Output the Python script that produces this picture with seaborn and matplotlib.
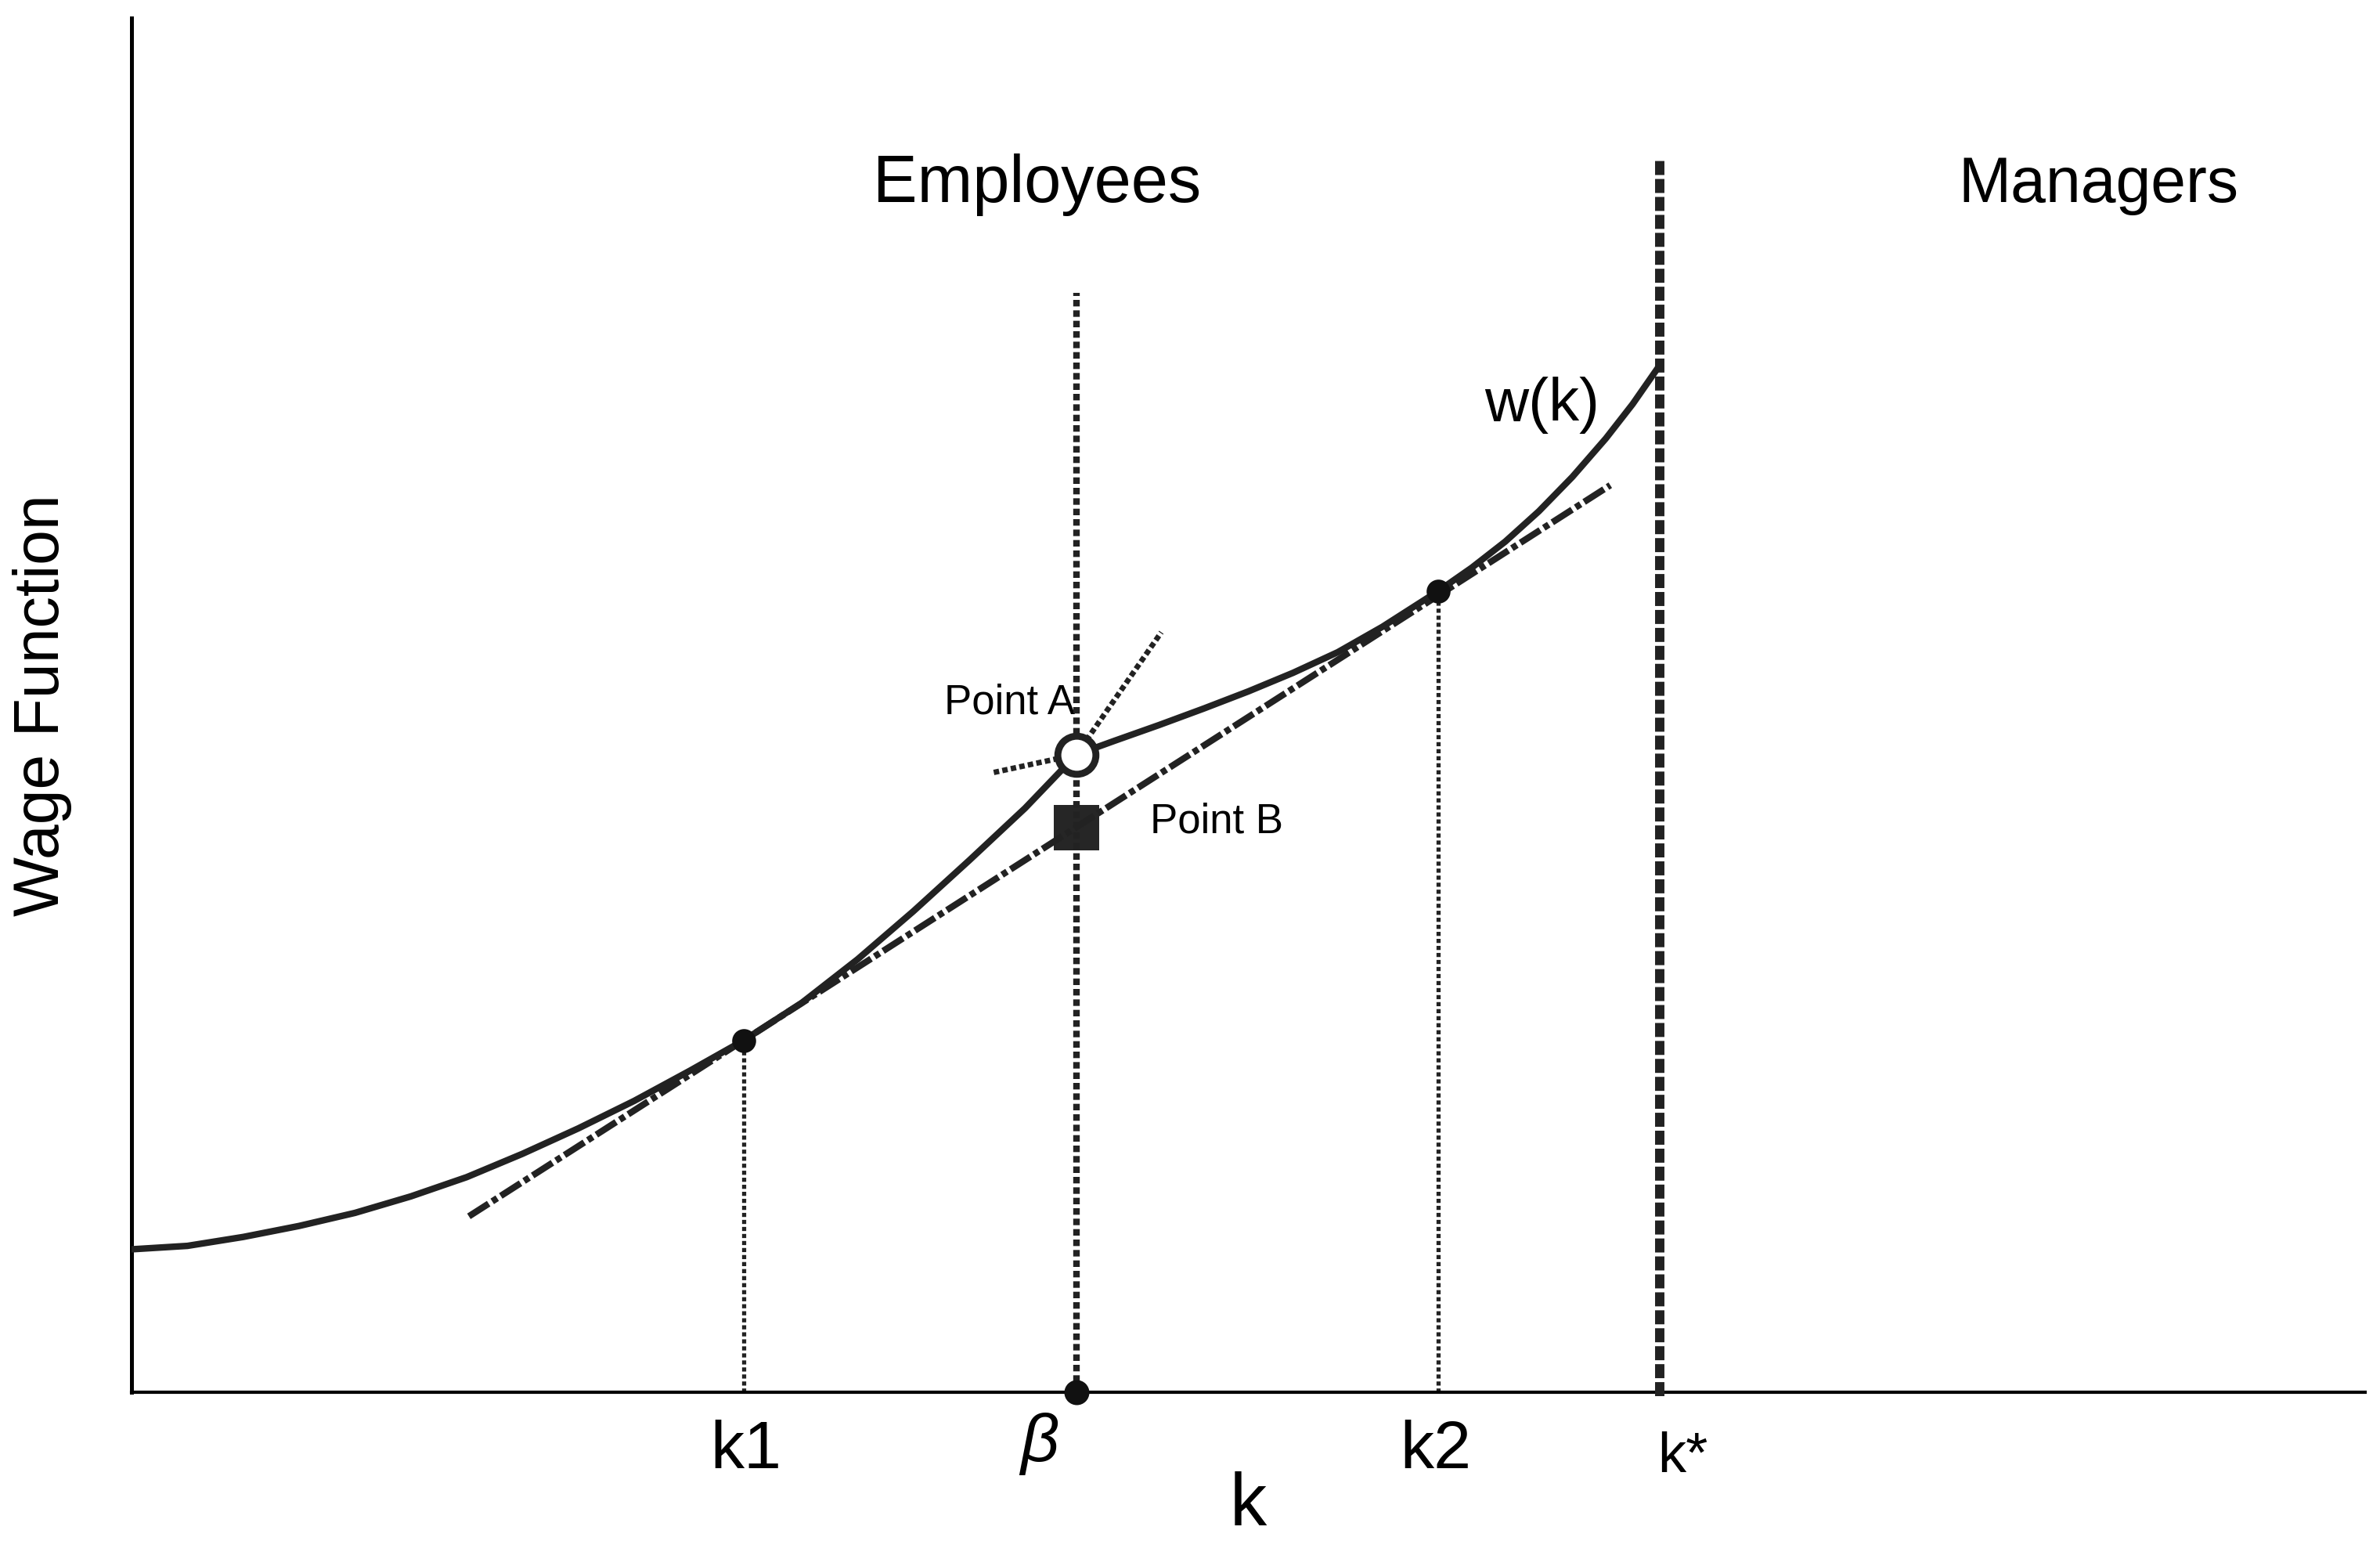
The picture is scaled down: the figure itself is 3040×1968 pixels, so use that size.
"""
Wage function w(k): employees vs managers, with points A and B
"""

import numpy as np
import matplotlib
matplotlib.use('Agg')
import matplotlib.pyplot as plt
import seaborn as sns
import pandas as pd

sns.set_theme(style='white')
plt.rcParams['font.family'] = ['Liberation Sans', 'DejaVu Sans']
plt.rcParams['text.color'] = 'black'

# Dane (jednostki osi 0..10)
k1 = 2.74
beta = 4.23
k2 = 5.85
k_star = 6.84

# w(k) - lewa galaz (od osi do punktu A)
left_k = [0.0, 0.25, 0.50, 0.75, 1.00, 1.25, 1.50, 1.75, 2.00, 2.25, 2.50, 2.74,
          3.00, 3.25, 3.50, 3.75, 4.00, 4.23]
left_w = [1.04, 1.065, 1.13, 1.21, 1.305, 1.425, 1.565, 1.735, 1.92, 2.12, 2.34, 2.56,
          2.833, 3.15, 3.50, 3.87, 4.25, 4.64]

# w(k) - prawa galaz (od punktu A do k*)
right_k = [4.23, 4.40, 4.60, 4.80, 5.00, 5.20, 5.40, 5.60, 5.85, 6.00, 6.15, 6.30,
           6.45, 6.60, 6.72, 6.84]
right_w = [4.64, 4.74, 4.855, 4.975, 5.10, 5.235, 5.385, 5.57, 5.83, 6.00, 6.19, 6.41,
           6.66, 6.94, 7.19, 7.47]

# prosta przez k1 i k2 (kreska-kropka)
chord_k = [1.51, 6.62]
chord_w = [1.28, 6.60]

# styczne w punkcie A (kropkowane)
tan_left_k = [3.86, 4.23]
tan_left_w = [4.51, 4.64]
tan_up_k = [4.23, 4.61]
tan_up_w = [4.64, 5.53]

point_a = (4.23, 4.64)
point_b = (4.23, 4.11)
w_k1 = 2.56
w_k2 = 5.83
beta_top = 8.0
kstar_top = 8.97

line_col = '#222222'

fig = plt.figure(figsize=(15.2, 9.84), dpi=200)
ax = fig.add_axes([0.0553, 0.09654, 0.9385, 0.8918])

left_df = pd.DataFrame({'k': left_k, 'w': left_w})
right_df = pd.DataFrame({'k': right_k, 'w': right_w})
sns.lineplot(data=left_df, x='k', y='w', ax=ax, color=line_col, lw=3.0,
             sort=False, estimator=None, zorder=3)
sns.lineplot(data=right_df, x='k', y='w', ax=ax, color=line_col, lw=3.0,
             sort=False, estimator=None, zorder=3)

# cieciwa
sns.lineplot(x=chord_k, y=chord_w, ax=ax, color=line_col, lw=3.0,
             linestyle=(0, (3.6, 0.65, 0.9, 0.65)), zorder=3)

# styczne w A
for tk, tw in [(tan_left_k, tan_left_w), (tan_up_k, tan_up_w)]:
    ax.plot(tk, tw, color=line_col, lw=2.5, linestyle=(0, (1.0, 0.6)), zorder=3)

# pionowe linie
ax.plot([k1, k1], [0, w_k1], color=line_col, lw=1.9, linestyle=(0, (1.0, 0.7)), zorder=2)
ax.plot([k2, k2], [0, w_k2], color=line_col, lw=1.9, linestyle=(0, (1.0, 0.7)), zorder=2)
ax.plot([beta, beta], [0, beta_top], color=line_col, lw=3.0,
        linestyle=(0, (1.0, 0.6)), zorder=4)
ax.plot([k_star, k_star], [-0.03, kstar_top], color=line_col, lw=4.3,
        linestyle=(0, (1.5, 0.42)), zorder=4, clip_on=False)

# punkty
ax.plot([k1, k2], [w_k1, w_k2], 'o', color='#111111', ms=10, zorder=5)
ax.plot([beta], [0], 'o', color='#111111', ms=10.5, zorder=5, clip_on=False)
ax.plot([point_b[0]], [point_b[1]], 's', color='#262626', ms=21, mew=0, zorder=2)
ax.plot([point_a[0]], [point_a[1]], 'o', mfc='white', mec=line_col, ms=17.5,
        mew=3.2, zorder=6)

# etykiety
ax.text(4.052, 8.661, 'Employees', fontsize=30.5, ha='center', va='baseline')
ax.text(8.805, 8.661, 'Managers', fontsize=29, ha='center', va='baseline')
ax.text(6.316, 7.066, 'w(k)', fontsize=28, ha='center', va='baseline')
ax.text(3.929, 4.94, 'Point A', fontsize=19, ha='center', va='baseline')
ax.text(4.858, 4.07, 'Point B', fontsize=19, ha='center', va='baseline')

tick_kw = dict(ha='center', va='baseline', clip_on=False)
ax.text(k1 + 0.01, -0.553, 'k1', fontsize=31, **tick_kw)
ax.text(4.066, -0.50, 'β', fontsize=31, style='italic', **tick_kw)
ax.text(k2 - 0.01, -0.553, 'k2', fontsize=31, **tick_kw)
ax.text(k_star - 0.01, -0.581, 'k*', fontsize=26, ha='left', va='baseline', clip_on=False)
ax.text(5.0, -0.97, 'k', fontsize=34, ha='center', va='baseline', clip_on=False)
ax.text(-0.040, 0.5, 'Wage Function', fontsize=29, rotation=90, ha='center',
        va='center', transform=ax.transAxes)

ax.set_xlim(0, 10)
ax.set_ylim(0, 10)
ax.set_xticks([])
ax.set_yticks([])
ax.set_xlabel('')
ax.set_ylabel('')
for side in ['top', 'right']:
    ax.spines[side].set_visible(False)
ax.spines['left'].set_linewidth(1.8)
ax.spines['bottom'].set_linewidth(1.5)
ax.spines['left'].set_color('black')
ax.spines['bottom'].set_color('black')

fig.savefig('out.png', dpi=200, facecolor='white')
